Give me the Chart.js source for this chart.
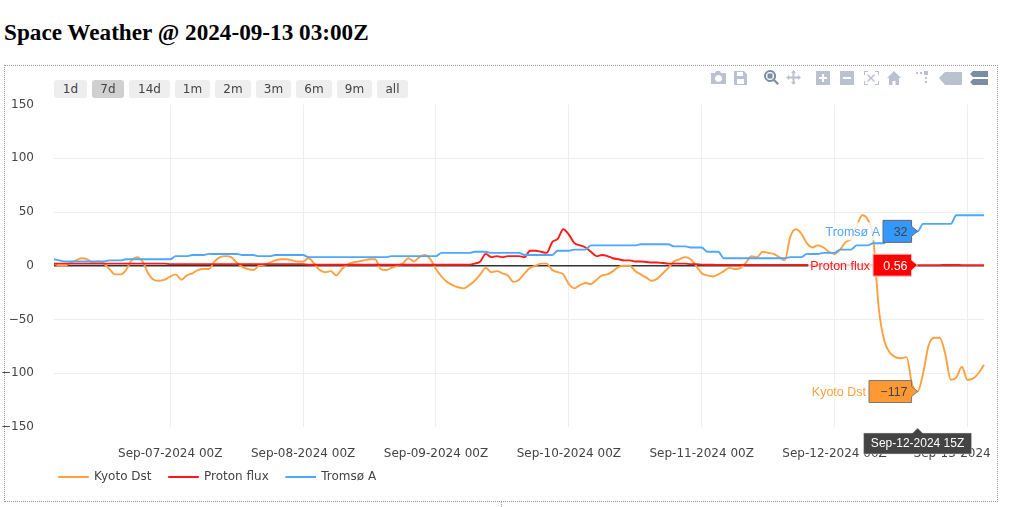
<!DOCTYPE html>
<html>
<head>
<meta charset="utf-8">
<script src="https://cdn.jsdelivr.net/npm/chart.js@4"></script>
<style>
html,body{margin:0;padding:0;background:#fff;width:1024px;height:507px;overflow:hidden}
#title{position:absolute;left:4px;top:18px;margin:0;font:bold 23.2px/28px "Liberation Serif",serif;color:#000;white-space:nowrap}
#frame{position:absolute;left:4px;top:65px;width:992px;height:435px;border:1px dotted #999;box-sizing:content-box}
#tick{position:absolute;left:501px;top:501px;height:6px;border-left:1px dotted #999}
canvas{position:absolute;left:0;top:0}
.rb{position:absolute;top:80px;height:18px;line-height:18px;background:#eee;border-radius:3px;color:#444;text-align:center;font:12px/18px "DejaVu Sans",sans-serif}
.rb.on{background:#d0d0d0}
#bar{position:absolute;left:0;top:0}
</style>
</head>
<body>
<h2 id="title">Space Weather @ 2024-09-13 03:00Z</h2>
<div id="frame"></div><div id="tick"></div>
<canvas id="c" width="1024" height="507"></canvas>
<div id="btns"></div>
<svg id="bar" width="1024" height="100" fill="#506784">
 <g opacity=".4">
  <path d="M711 73h4l1-2h4l1 2h4a1 1 0 0 1 1 1v10h-15zM718.500 75a3.500 3.500 0 1 0 .01 0z" fill-rule="evenodd"/>
  <path d="M734 71h10l3 3v11h-13zM737 72v4h6v-4zM737 79v5h7v-5z" fill-rule="evenodd"/>
  <path d="M793.500 70l2.500 3h-1.500v3.500h3.500v-1.500l3 2.500-3 2.500v-1.500h-3.500v3.500h1.500l-2.500 3-2.500-3h1.500v-3.500h-3.500v1.500l-3-2.500 3-2.500v1.500h3.500v-3.500h-1.500z"/>
  <path d="M816 71h14v14h-14zM822 74v3h-3v2h3v3h2v-3h3v-2h-3v-3z" fill-rule="evenodd"/>
  <path d="M840 71h14v14h-14zM843 77v2h8v-2z" fill-rule="evenodd"/>
  <path d="M864 75v-4h4v1h-3v3zM875 71h4v4h-1v-3h-3zM864 81h1v3h3v1h-4zM878 81h1v4h-4v-1h3zM868 74l3 3 3-3 1 1-3 3 3 3-1 1-3-3-3 3-1-1 3-3-3-3z"/>
  <path d="M887 78l7-7 7 7h-2v7h-3.500v-4h-3v4h-3.500v-7z"/>
  <path d="M916 72h2v2h-2zM920 72h2v2h-2zM924 71h4v4h-4zM925 77h2v2h-2zM925 81h2v2h-2z"/>
  <path d="M939 78l6-6h17v13h-17z"/>
 </g>
 <g opacity=".75">
  <path d="M770 70a6 6 0 1 0 3.500 10.900l4 4 1.500-1.500-4-4A6 6 0 0 0 770 70zM770 72a4 4 0 1 1 0 8 4 4 0 0 1 0-8z" fill-rule="evenodd"/>
  <rect x="767.500" y="73.500" width="5" height="5"/>
  <path d="M973 71h15v6h-15l-3-3zM973 79h15v6h-15l-3-3z"/>
 </g>
</svg>
<script>
const seriesNames = ["Kyoto Dst", "Proton flux", "Tromsø A"];
const seriesColors = ["#ffa040", "#ff1a1a", "#4da6ff"];
const rangeButtons = ["1d", "7d", "14d", "1m", "2m", "3m", "6m", "9m", "all"];
const yTicks = [-150, -100, -50, 0, 50, 100, 150];
const hoverTime = "Sep-12-2024 15Z";
const hoverIndex = 156;
const hoverValues = [-117, 0.56, 32];
const hoverText = ["−117", "0.56", "32"];

const kyotoDst = [
 2,0,0,3,5,7,6,3,4,2,
 -3,-8,-8,-4,5,8,4,-7,-13,-14,
 -13,-10,-8,-13,-9,-7,-4,-3,-3,4,
 8,9,8,3,-1,-3,-4,0,1,3,
 5,6,6,5,4,4,7,2,-4,-6,
 -5,-9,-3,1,3,4,5,6,6,-3,
 -4,-2,0,2,7,4,8,10,6,-3,
 -10,-15,-18,-20,-21,-18,-14,-8,-2,-6,
 -5,-7,-9,-15,-13,-7,-2,0,2,2,
 -4,-6,-8,-17,-21,-18,-16,-17,-13,-9,
 -8,-5,-1,0,0,-5,-8,-11,-14,-12,
 -7,-2,4,6,8,6,0,-7,-9,-10,
 -8,-5,-2,-3,-2,3,9,8,13,12,
 11,8,5,27,34,30,21,17,19,17,
 13,11,15,22,25,37,47,43,25,-40,
 -70,-81,-85,-86,-85,-110,-117,-100,-74,-67,
 -67,-82,-106,-104,-94,-106,-105,-100,-92];

const protonFlux = [
 2,2,2,2,2,2,2,2,2,2,
 2,2,2,2,2,2,2,2,2,2,
 2,1.5,1.5,1.5,1.5,1.5,1.5,1.5,1.5,1.5,
 1.5,1.5,1.5,1.5,1.5,1.5,1.5,1.5,1.5,1.5,
 1.5,1.5,1.5,1.5,1.5,1.5,1,1,1,1,
 1,1,1,1,1,1,1,1,1,1,
 1,1,1,1,1,1,1,1,1,1,
 1,1,1,1,1,1,2,4,11,8,
 9,8,9,9,9,8,14,14,13,12,
 22,25,34,29,21,19,17,13,9,10,
 9,7,6,5,5,4,4,3.5,3,3,
 2.5,2,2,2,2,1.5,1.5,1,0.9,0.9,
 0.8,0.8,0.8,0.8,0.8,0.8,0.8,0.8,0.8,0.8,
 0.8,0.8,0.8,0.8,0.8,0.8,0.8,0.8,0.8,0.8,
 0.8,0.8,0.8,0.8,0.8,0.8,0.7,0.7,0.7,0.7,
 0.7,0.7,0.6,0.6,0.6,0.6,0.56,0.6,0.6,0.6,
 0.6,0.7,0.7,0.7,0.6,0.6,0.6,0.6,0.6];

const tromsoA = [
 6,5,4,4,
 4,4,4,4,4,4,
 5,5,5,
 6,6,6,6,6,6,6,6,6,
 9,9,9, 10,10,10,
 11,11,11,11,11,11,
 10,10,10, 9,9,9,
 10,10,10,10,10,10,
 8,8,8,8,8,8,8,8,8,8,8,8,8,8,8,
 9,9,9,9,9,9,9,9,9,
 12,12,12,12,12,12,
 13,13,13,
 12,12,12,12,12,12,
 10,10,10,10,10,10,
 14,14,14, 15,15,15,
 19,19,19,19,19,19,19,19,19,
 20,20,20,20,20,20,
 18,18,18, 17,17,17, 13,13,13,
 7,7,7,7,7,7,7,7,7,7,7,7,
 8,8,8, 11,11,11, 12,12,12, 15,15,15, 19,19,19, 21,21,21,
 32,32,32,32,32,32,
 39,39,39,39,39,39,
 47,47,47,47,47,47];

const startTime = Date.UTC(2024, 8, 6, 3);
const monthNames = ["Jan","Feb","Mar","Apr","May","Jun","Jul","Aug","Sep","Oct","Nov","Dec"];
const p2 = n => String(n).padStart(2, "0");
const timeLabels = kyotoDst.map((_, i) => {
  const d = new Date(startTime + i * 3600000);
  return monthNames[d.getUTCMonth()] + "-" + p2(d.getUTCDate()) + "-" + d.getUTCFullYear() + " " + p2(d.getUTCHours()) + "Z";
});

/* range selector */
const btnLeft = [54,92,129,175,215,256,296,337,377];
const btnWidth = [33,32,41,35,36,35,36,35,31];
const btns = document.getElementById("btns");
rangeButtons.forEach((t, i) => {
  const b = document.createElement("div");
  b.className = "rb" + (t === "7d" ? " on" : "");
  b.style.left = btnLeft[i] + "px";
  b.style.width = btnWidth[i] + "px";
  b.textContent = t;
  btns.appendChild(b);
});

const tickFont = { family: '"DejaVu Sans", sans-serif', size: 12 };

const hoverPlugin = {
  id: "hoverLabels",
  afterLayout(chart) {
    chart.legend.left = 41.5;
    chart.legend.top = 453.5;
  },
  afterDraw(chart) {
    const ctx = chart.ctx, xs = chart.scales.x, ys = chart.scales.y;
    const px = xs.getPixelForValue(hoverIndex);
    const boxes = [
      { i: 2, left: 883, fill: "#3399ff", stroke: "#666", text: "#444" },
      { i: 1, left: 873, fill: "#ff0000", stroke: "#ffc0c0", text: "#fff" },
      { i: 0, left: 869, fill: "#ff9933", stroke: "#777", text: "#444" }
    ];
    const right = px - 6;
    ctx.save();
    ctx.font = '12.5px "Liberation Sans", sans-serif';
    ctx.textBaseline = "middle";
    boxes.forEach(b => {
      const py = ys.getPixelForValue(hoverValues[b.i]);
      const name = seriesNames[b.i];
      const w = ctx.measureText(name).width;
      ctx.fillStyle = "rgba(255,255,255,0.8)";
      ctx.fillRect(b.left - w - 5, py - 9, w + 5, 18);
      ctx.beginPath();
      ctx.moveTo(b.left, py - 11);
      ctx.lineTo(right, py - 11);
      ctx.lineTo(right, py - 5);
      ctx.lineTo(px, py);
      ctx.lineTo(right, py + 5);
      ctx.lineTo(right, py + 11);
      ctx.lineTo(b.left, py + 11);
      ctx.closePath();
      ctx.fillStyle = b.fill;
      ctx.fill();
      ctx.lineWidth = 1;
      ctx.strokeStyle = b.stroke;
      ctx.stroke();
      ctx.textAlign = "right";
      ctx.fillStyle = seriesColors[b.i];
      ctx.fillText(name, b.left - 3, py + 1);
      ctx.fillStyle = b.text;
      ctx.fillText(hoverText[b.i], right - 4, py + 1);
    });
    const top = 433, bottom = 454, hw = 54;
    ctx.font = '12px "Liberation Sans", sans-serif';
    ctx.beginPath();
    ctx.moveTo(px - hw, top);
    ctx.lineTo(px - 5, top);
    ctx.lineTo(px, top - 5);
    ctx.lineTo(px + 5, top);
    ctx.lineTo(px + hw, top);
    ctx.lineTo(px + hw, bottom);
    ctx.lineTo(px - hw, bottom);
    ctx.closePath();
    ctx.fillStyle = "#444";
    ctx.fill();
    ctx.strokeStyle = "#ddd";
    ctx.lineWidth = 0.5;
    ctx.stroke();
    ctx.fillStyle = "#fff";
    ctx.textAlign = "center";
    ctx.fillText(hoverTime, px, 444);
    ctx.restore();
  }
};

const makeSet = (i, data, order) => ({
  label: seriesNames[i],
  data,
  borderColor: seriesColors[i],
  backgroundColor: seriesColors[i],
  borderWidth: 1.9,
  pointRadius: 0,
  cubicInterpolationMode: "monotone",
  order
});

new Chart(document.getElementById("c"), {
  type: "line",
  data: {
    labels: timeLabels,
    datasets: [makeSet(0, kyotoDst, 3), makeSet(1, protonFlux, 2), makeSet(2, tromsoA, 1)]
  },
  plugins: [hoverPlugin],
  options: {
    responsive: false,
    animation: false,
    events: [],
    layout: { padding: { left: 0, right: 40, top: 104.5, bottom: 0 } },
    plugins: {
      tooltip: { enabled: false },
      title: { display: false },
      legend: {
        display: true,
        position: "bottom",
        align: "start",
        labels: {
          boxWidth: 29,
          boxHeight: 0.2,
          padding: 17.5,
          color: "#444",
          font: tickFont,
          sort: (a, b) => a.datasetIndex - b.datasetIndex,
          generateLabels(chart) {
            return Chart.defaults.plugins.legend.labels.generateLabels(chart).map(l => ({ ...l, lineWidth: 1.6 }));
          }
        }
      }
    },
    scales: {
      x: {
        type: "category",
        offset: false,
        afterBuildTicks(s) {
          s.ticks = s.ticks.filter(t => timeLabels[t.value].endsWith(" 00Z"));
        },
        afterFit(s) {
          s.height = 40.5;
          s.paddingLeft = 0;
          s.paddingRight = 0;
        },
        border: { display: false },
        grid: { color: "#eeeeee", lineWidth: 1, drawTicks: false },
        ticks: {
          autoSkip: false,
          maxRotation: 0,
          minRotation: 0,
          padding: 20,
          color: "#444",
          font: tickFont,
          callback(v) {
            const s = timeLabels[v];
            return s.startsWith("Sep-13") ? "Sep-13-2024" + "\u00A0".repeat(8) : s;
          }
        }
      },
      y: {
        min: yTicks[0],
        max: yTicks[yTicks.length - 1],
        afterFit(s) { s.width = 54; },
        afterBuildTicks(s) { s.ticks = yTicks.map(v => ({ value: v })); },
        border: { display: false },
        grid: {
          drawTicks: false,
          lineWidth(ctx) { return ctx.tick && ctx.tick.value === 0 ? 1.4 : 1; },
          color(ctx) {
            const v = ctx.tick && ctx.tick.value;
            if (v === 0) return "#333333";
            return Math.abs(v) === 150 ? "rgba(0,0,0,0)" : "#eeeeee";
          }
        },
        ticks: {
          padding: 20,
          color: "#444",
          font: tickFont,
          callback: v => String(v).replace("-", "−")
        }
      }
    }
  }
});
</script>
</body>
</html>
